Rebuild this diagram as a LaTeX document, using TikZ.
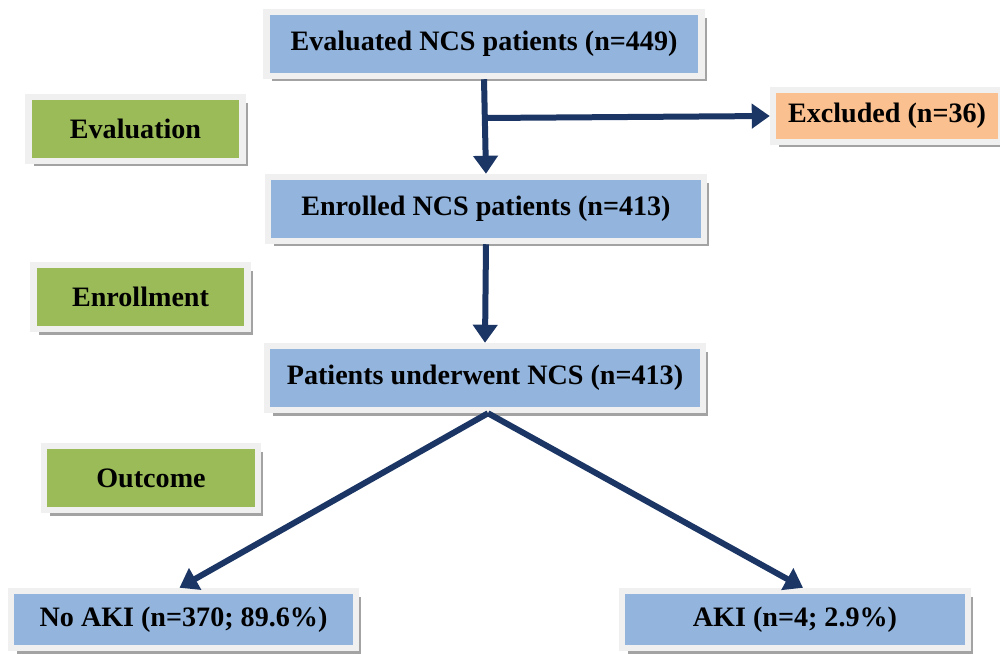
\documentclass[tikz,border=0pt]{standalone}
\usepackage{fontspec}
\setmainfont{Liberation Serif}
\usetikzlibrary{shadows,arrows.meta}
\definecolor{boxblue}{HTML}{92B4DD}
\definecolor{boxgreen}{HTML}{9BBB59}
\definecolor{boxorange}{HTML}{FAC090}
\definecolor{framegray}{HTML}{F0F0F0}
\definecolor{arrownavy}{HTML}{1B3564}
\begin{document}
\begin{tikzpicture}[x=0.02cm, y=-0.02cm,
  box/.style={draw=framegray, line width=0.13cm, inner sep=0pt,
    font=\fontsize{16}{19}\selectfont\bfseries,
    drop shadow={shadow xshift=0.11cm, shadow yshift=-0.11cm, fill=black!45, opacity=0.8}},
  bluebox/.style={box, fill=boxblue, minimum height=1.28cm},
  stagebox/.style={box, fill=boxgreen, minimum width=4.28cm, minimum height=1.28cm},
  flow/.style={draw=arrownavy, line width=0.12cm, -{Triangle[width=0.48cm,length=0.36cm]}}]
\useasboundingbox (0,0) rectangle (1000,653);

% main flow
\node[bluebox, minimum width=8.7cm] (eval) at (484,44) {Evaluated NCS patients (n=449)};
\node[bluebox, minimum width=8.72cm] (enrol) at (486,209) {Enrolled NCS patients (n=413)};
\node[bluebox, minimum width=8.72cm] (under) at (485,378) {Patients underwent NCS (n=413)};
\node[box, fill=boxorange, minimum width=4.56cm, minimum height=1.04cm] (excl) at (887,116) {Excluded (n=36)};

% stages on the left
\node[stagebox] (evalstage) at (135.5,129) {Evaluation};
\node[stagebox] (enrolstage) at (140.5,297) {Enrollment};
\node[stagebox] (outstage) at (151,478) {Outcome};

% outcomes
\node[bluebox, minimum width=6.9cm, minimum height=1.14cm] (noaki) at (183.5,619.5) {No AKI (n=370; 89.6\%)};
\node[bluebox, minimum width=6.92cm, minimum height=1.14cm] (aki) at (795,619.5) {AKI (n=4; 2.9\%)};

\coordinate (branch) at (484,118);
\draw[flow] (eval.south) -- (enrol.north);
\draw[flow] (branch) -- (excl.west);
\draw[flow] (enrol.south) -- (under.north);
\draw[flow] ([xshift=0.06cm]under.south) -- ([xshift=-0.08cm]noaki.north);
\draw[flow] ([xshift=0.06cm]under.south) -- ([xshift=0.16cm]aki.north);
\end{tikzpicture}
\end{document}
